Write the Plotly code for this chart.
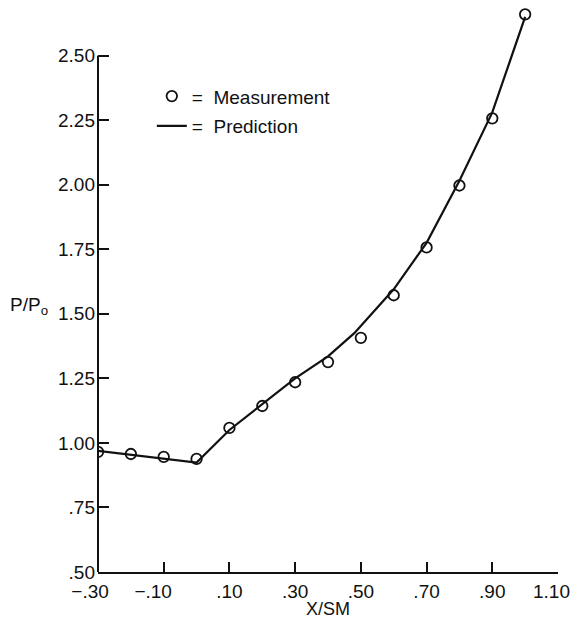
import plotly.graph_objects as go

# Measurement (open circles)
meas_x = [-0.3, -0.2, -0.1, 0.0, 0.1, 0.2, 0.3, 0.4, 0.5, 0.6, 0.7, 0.8, 0.9, 1.0]
meas_y = [0.965, 0.957, 0.946, 0.938, 1.058, 1.143, 1.235, 1.313, 1.407, 1.572, 1.757, 1.997, 2.257, 2.66]

# Prediction (solid line)
pred_x = [-0.3, 0.0, 0.1, 0.2, 0.3, 0.4, 0.48, 0.6, 0.7, 0.8, 0.9, 1.0]
pred_y = [0.969, 0.924, 1.05, 1.15, 1.25, 1.335, 1.425, 1.595, 1.775, 2.015, 2.28, 2.65]

x_tickvals = [-0.3, -0.1, 0.1, 0.3, 0.5, 0.7, 0.9, 1.1]
x_ticktext = ["\u2212.30\u00a0\u00a0\u00a0", "\u2212.10\u00a0\u00a0\u00a0\u00a0", ".10", ".30", ".50", ".70", ".90", ""]
x_last_label = "1.10"   # drawn right-aligned at the page edge, as in the original
y_tickvals = [0.5, 0.75, 1.0, 1.25, 1.5, 1.75, 2.0, 2.25, 2.5]
y_ticktext = [".50", ".75", "1.00", "1.25", "1.50", "1.75", "2.00", "2.25", "2.50"]

FONT = "Liberation Sans, Arial, Helvetica, sans-serif"
INK = "#111111"

fig = go.Figure()
fig.add_trace(go.Scatter(
    x=meas_x, y=meas_y, mode="markers", name="=\u00a0\u00a0Measurement",
    legendgroup="m",
    marker=dict(symbol="circle-open", size=10.5, color=INK, line=dict(width=1.8, color=INK)),
))
fig.add_trace(go.Scatter(
    x=pred_x, y=pred_y, mode="lines", name="=\u00a0\u00a0Prediction",
    legendgroup="p",
    line=dict(color=INK, width=2.2),
))

fig.update_layout(
    width=573, height=619,
    margin=dict(l=98, r=15, t=4, b=47),
    paper_bgcolor="white", plot_bgcolor="white",
    font=dict(family=FONT, size=19, color=INK),
    showlegend=True,
    legend=dict(x=0.117, y=0.871, xanchor="left", yanchor="top",
                bgcolor="rgba(0,0,0,0)", font=dict(size=19, color=INK),
                traceorder="grouped", tracegroupgap=2),
    xaxis=dict(range=[-0.3, 1.1], tickvals=x_tickvals, ticktext=x_ticktext,
               ticks="inside", ticklen=10, tickwidth=1.8, tickcolor=INK,
               showline=True, linecolor=INK, linewidth=2, showgrid=False, zeroline=False,
               tickfont=dict(size=19), automargin=False,
               ticklabelstandoff=1,
               title=dict(text="X/SM", font=dict(size=18), standoff=0)),
    yaxis=dict(range=[0.5, 2.7], tickvals=y_tickvals, ticktext=y_ticktext,
               ticks="inside", ticklen=11, tickwidth=1.8, tickcolor=INK,
               showline=False, showgrid=False, zeroline=False, automargin=False,
               ticklabelstandoff=2,
               tickfont=dict(size=19)),
    shapes=[dict(type="line", xref="paper", yref="y", x0=0, x1=0, y0=0.5, y1=2.5,
                 line=dict(color=INK, width=2))],
    annotations=[
        dict(text="P/P<sub>o</sub>", xref="paper", yref="y", x=-0.196, y=1.53,
             xanchor="left", yanchor="middle", showarrow=False,
             font=dict(size=19, color=INK)),
        dict(text=x_last_label, xref="x", yref="paper", x=x_tickvals[-1], y=0,
             xanchor="right", yanchor="top", xshift=13, yshift=-8, borderpad=0,
             showarrow=False, font=dict(size=19, color=INK)),
    ],
)

fig.write_html("out.html")
